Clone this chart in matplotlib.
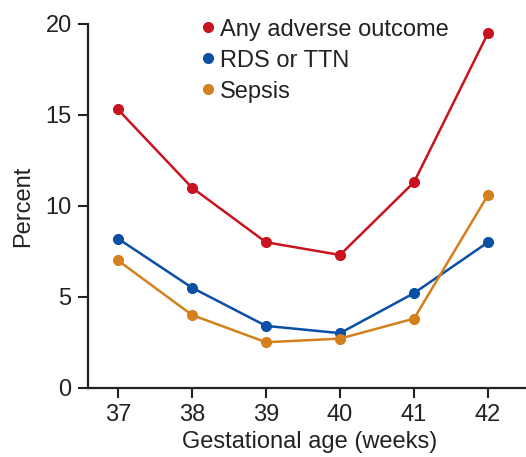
import matplotlib
matplotlib.use("Agg")
import matplotlib.pyplot as plt
from matplotlib.lines import Line2D

plt.rcParams["font.family"] = ["Liberation Sans", "DejaVu Sans"]

weeks = [37, 38, 39, 40, 41, 42]
any_adverse = [15.3, 11.0, 8.0, 7.3, 11.3, 19.5]
rds_ttn = [8.2, 5.5, 3.4, 3.0, 5.2, 8.0]
sepsis = [7.0, 4.0, 2.5, 2.7, 3.8, 10.6]

series = [
    ("Any adverse outcome", any_adverse, "#c8141f"),
    ("RDS or TTN", rds_ttn, "#0a4fa3"),
    ("Sepsis", sepsis, "#d4801c"),
]

fig = plt.figure(figsize=(5.26, 4.57), dpi=100)
ax = fig.add_axes([0.168, 0.1516, 0.84, 0.7959])

for label, vals, col in series:
    ax.plot(weeks, vals, "-o", color=col, lw=1.8, markersize=7, label=label)

ax.set_xlim(36.6, 42.57)
ax.set_ylim(0, 20)
ax.set_xticks(weeks)
ax.set_yticks([0, 5, 10, 15, 20])
for side in ("top", "right"):
    ax.spines[side].set_visible(False)
for side in ("left", "bottom"):
    ax.spines[side].set_linewidth(1.6)
    ax.spines[side].set_color("#222222")
ax.tick_params(direction="out", length=7, width=1.5, labelsize=17,
               colors="#222222", pad=5)
ax.set_xlabel("Gestational age (weeks)", fontsize=17, color="#222222", labelpad=3)
ax.set_ylabel("Percent", fontsize=17, color="#222222", labelpad=8)

handles = [Line2D([0], [0], marker="o", linestyle="none", color=c,
                  markersize=7) for _, _, c in series]
ax.legend(handles, [s[0] for s in series], loc="upper left",
          bbox_to_anchor=(0.351, 0.985), bbox_transform=fig.transFigure,
          frameon=False, fontsize=17, handletextpad=0.0, labelspacing=0.38,
          borderpad=0, handlelength=1.0, labelcolor="#222222")

fig.savefig("out.png", dpi=100)
